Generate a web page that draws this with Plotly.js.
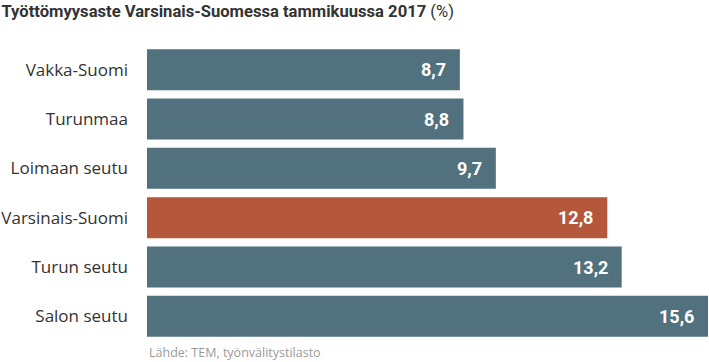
<!DOCTYPE html>
<html><head><meta charset="utf-8">
<script src="https://cdn.plot.ly/plotly-3.0.1.min.js"></script>
<style>body{margin:0;padding:0;background:#fff}#chart{width:709px;height:362px}</style>
</head><body><div id="chart"></div>
<script>
const categories = ["Vakka-Suomi","Turunmaa","Loimaan seutu","Varsinais-Suomi","Turun seutu","Salon seutu"];
const values = [8.7, 8.8, 9.7, 12.8, 13.2, 15.6];
const valueLabels = ["8,7","8,8","9,7","12,8","13,2","15,6"];
const highlight = "Varsinais-Suomi";

const colors = categories.map(c => c === highlight ? "#b5573a" : "#52717f");

const trace = {
  type: "bar", orientation: "h",
  x: values, y: categories,
  marker: {color: colors, line: {width: 0}},
  hoverinfo: "skip"
};

const annotations = categories.map((c, i) => ({
  x: values[i], y: c, xref: "x", yref: "y",
  text: valueLabels[i], showarrow: false,
  xanchor: "right", yanchor: "middle", xshift: -12,
  font: {family: "Roboto, sans-serif", size: 18, color: "#ffffff", weight: "bold"}
}));
annotations.push({
  xref: "paper", yref: "paper", x: 0, y: 0, yshift: -1,
  xanchor: "left", yanchor: "top", showarrow: false,
  text: "Lähde: TEM, työnvälitystilasto",
  font: {family: "Open Sans, sans-serif", size: 12.5, color: "#9a9a9a"}
});

const layout = {
  width: 709, height: 362,
  margin: {l: 147, r: 1, t: 45, b: 21},
  paper_bgcolor: "#fff", plot_bgcolor: "#fff",
  title: {
    text: "<b>Työttömyysaste Varsinais-Suomessa tammikuussa 2017</b> (%)",
    x: 0.002, xanchor: "left", xref: "container", y: 0.985, yanchor: "top", yref: "container",
    font: {family: "Roboto, sans-serif", size: 16.6, color: "#333333"}
  },
  xaxis: {range: [0, 15.6], visible: false, fixedrange: true},
  yaxis: {
    autorange: "reversed", showgrid: false, zeroline: false, showline: false,
    ticks: "", ticklabelstandoff: 18,
    tickfont: {family: "Open Sans, sans-serif", size: 17, color: "#333333"}
  },
  bargap: 0.17,
  showlegend: false,
  annotations: annotations
};

Plotly.newPlot("chart", [trace], layout, {staticPlot: true, displayModeBar: false});
</script></body></html>
